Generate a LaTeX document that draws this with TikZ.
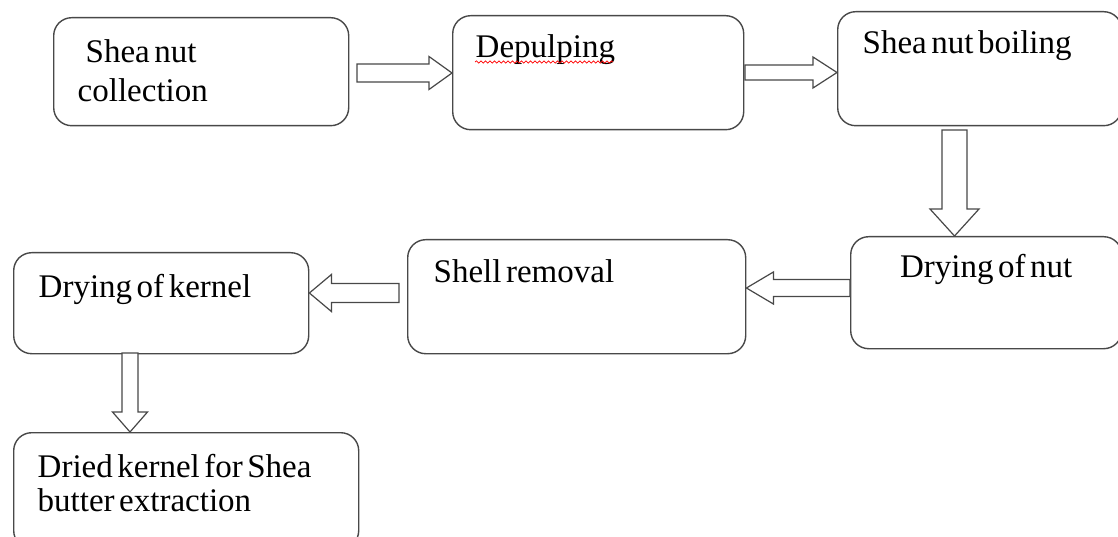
\documentclass[tikz,border=0pt]{standalone}
\usepackage{fontspec}
\setmainfont{Liberation Serif}[WordSpace=0.55]
\usetikzlibrary{calc,decorations.pathmorphing}

\definecolor{edge}{HTML}{484848}

\tikzset{
	stage/.style={draw=edge, line width=1.4pt, rounded corners=18pt, anchor=north west,
		align=flush left, inner ysep=0pt, font=\fontsize{33}{35}\selectfont},
	fat/.style n args={3}{draw=edge, line width=1.2pt, fill=white,
		to path={
			($(\tikztostart)!#1!90:(\tikztotarget)$)
			-- ($(\tikztotarget)!#3!(\tikztostart)!#1!-90:(\tikztostart)$)
			-- ($(\tikztotarget)!#3!(\tikztostart)!#2!-90:(\tikztostart)$)
			-- (\tikztotarget)
			-- ($(\tikztotarget)!#3!(\tikztostart)!#2!90:(\tikztostart)$)
			-- ($(\tikztotarget)!#3!(\tikztostart)!#1!90:(\tikztostart)$)
			-- ($(\tikztostart)!#1!-90:(\tikztotarget)$)
			-- cycle}}
}

\begin{document}
\begin{tikzpicture}[x=1pt, y=-1pt]
		\path[use as bounding box, fill=white] (0,0) rectangle (1118,537);

		\node[stage, inner xsep=24pt, text width=247pt, text height=45pt, text depth=63pt,
			font=\fontsize{33}{38.4}\selectfont] (collect) at (53,17) {\hspace*{8pt}Shea nut\\collection};
		\node[stage, inner xsep=23pt, text width=245pt, text height=42pt, text depth=72pt] (depulp) at (452,15) {Depulping};
		\node[stage, inner xsep=25pt, text width=234pt, text height=42pt, text depth=72pt] (boil) at (837,11) {Shea nut boiling};
		\node[stage, align=flush center, inner xsep=10pt, text width=251pt, text height=41pt, text depth=71pt] (drynut) at (850,236) {Drying of nut};
		\node[stage, inner xsep=26pt, text width=286pt, text height=43pt, text depth=71pt] (shell) at (407,239) {Shell removal};
		\node[stage, inner xsep=25pt, text width=245pt, text height=45pt, text depth=56pt] (drykern) at (13,252) {Drying of kernel};
		\node[stage, inner xsep=24pt, text width=297pt, text height=45pt, text depth=71pt,
			font=\fontsize{33}{34}\selectfont] (dried) at (13,432) {Dried kernel for Shea\\butter extraction};

		\draw[red, line width=0.7pt, decorate, decoration={snake, amplitude=1.1pt, segment length=4.5pt}] (475,62) -- (613,62);

		\coordinate (a1) at (357,73);
		\coordinate (a2) at (745,72.5);
		\coordinate (a3) at (954.5,130);
		\coordinate (a4) at (850,288);
		\coordinate (a5) at (399,293);
		\coordinate (a6) at (130,353);

		\draw[fat={9pt}{16.5pt}{23pt}] (a1) to (depulp.west |- a1);
		\draw[fat={7.5pt}{15.5pt}{24pt}] (a2) to (boil.west |- a2);
		\draw[fat={12.5pt}{24.5pt}{27pt}] (a3) to (a3 |- drynut.north);
		\draw[fat={8.5pt}{16pt}{27pt}] (a4) to (shell.east |- a4);
		\draw[fat={9.5pt}{18.5pt}{22pt}] (a5) to (drykern.east |- a5);
		\draw[fat={8pt}{17.5pt}{20pt}] (a6) to (a6 |- dried.north);
\end{tikzpicture}
\end{document}
